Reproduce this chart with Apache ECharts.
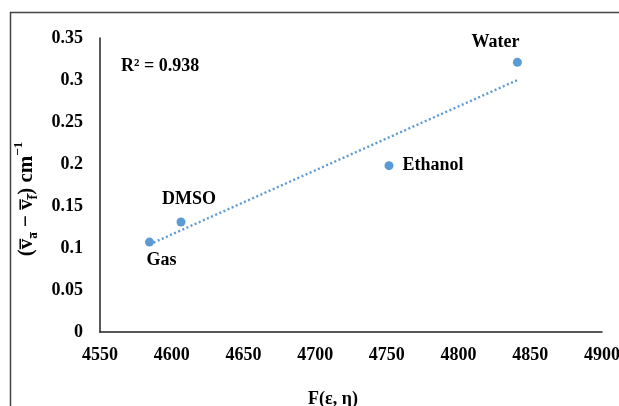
<!DOCTYPE html>
<html>
<head>
<meta charset="utf-8">
<script src="https://cdn.jsdelivr.net/npm/echarts@6/dist/echarts.min.js"></script>
<style>html,body{margin:0;padding:0;background:#fff}#c{width:619px;height:406px}</style>
</head>
<body>
<div id="c"></div>
<script>
const solvents = ['Gas', 'DMSO', 'Ethanol', 'Water'];
const fValues = [4584.5, 4606.5, 4751.5, 4841];
const shiftValues = [0.107, 0.131, 0.198, 0.321];
const xTicks = [4550, 4600, 4650, 4700, 4750, 4800, 4850, 4900];
const yTicks = [0, 0.05, 0.1, 0.15, 0.2, 0.25, 0.3, 0.35];
const r2Text = 'R² = 0.938';

// least squares trendline from the data
const n = fValues.length;
const mx = fValues.reduce((a, b) => a + b, 0) / n;
const my = shiftValues.reduce((a, b) => a + b, 0) / n;
let sxy = 0, sxx = 0;
for (let i = 0; i < n; i++) { sxy += (fValues[i] - mx) * (shiftValues[i] - my); sxx += (fValues[i] - mx) ** 2; }
const slope = sxy / sxx, icpt = my - slope * mx;
const xMin = Math.min(...fValues), xMax = Math.max(...fValues);
const trend = [[xMin, icpt + slope * xMin], [xMax, icpt + slope * xMax]];

const labelPos = {
  Gas: { position: 'bottom', offset: [12, 0] },
  DMSO: { position: 'top', offset: [8, -4] },
  Ethanol: { position: 'right', offset: [4, 0] },
  Water: { position: 'top', offset: [-22, -2] }
};
const FONT = '"Liberation Serif", "Times New Roman", serif';
const FS = 18;
const chart = echarts.init(document.getElementById('c'));
chart.setOption({
  animation: false,
  grid: { left: 100, right: 17, top: 38, bottom: 74, containLabel: false, outerBoundsMode: 'none' },
  xAxis: {
    type: 'value', min: xTicks[0], max: xTicks[xTicks.length - 1], interval: 50,
    splitLine: { show: false }, axisTick: { show: false },
    axisLine: { lineStyle: { color: '#222', width: 1.5 } },
    axisLabel: { color: '#000', fontFamily: FONT, fontWeight: 'bold', fontSize: FS, margin: 14,
      formatter: v => String(v) },
    name: 'F(ε, η)', nameLocation: 'middle', nameGap: 58,
    nameTextStyle: { color: '#000', fontFamily: FONT, fontWeight: 'bold', fontSize: FS, padding: [0, 36, 0, 0] }
  },
  yAxis: {
    type: 'value', min: 0, max: 0.35, interval: 0.05,
    splitLine: { show: false }, axisTick: { show: false },
    axisLine: { show: true, lineStyle: { color: '#222', width: 1.5 } },
    axisLabel: { color: '#000', fontFamily: FONT, fontWeight: 'bold', fontSize: FS, margin: 17,
      formatter: v => String(v) },
    name: '{t|(v̅}{s|a̅}{t| − v̅}{s|f̅}{t|) cm}{u|−1}', nameLocation: 'middle', nameGap: 57, nameRotate: 90,
    nameTextStyle: {
      color: '#000', fontFamily: FONT, fontWeight: 'bold', fontSize: 20, padding: [0, 28, 0, 0],
      rich: {
        t: { fontFamily: FONT, fontWeight: 'bold', fontSize: 21, color: '#000', lineHeight: 28 },
        s: { fontFamily: FONT, fontWeight: 'bold', fontSize: 13, color: '#000', lineHeight: 28, verticalAlign: 'bottom', padding: [8, 0, 0, 0] },
        u: { fontFamily: FONT, fontWeight: 'bold', fontSize: 13, color: '#000', lineHeight: 28, verticalAlign: 'top', padding: [0, 0, 10, 0] }
      }
    }
  },
  graphic: [
    { type: 'rect', silent: true, shape: { x: 10.5, y: 12.5, width: 700, height: 500 },
      style: { fill: 'none', stroke: '#444', lineWidth: 1.5 } },
    { type: 'text', left: 121, top: 57, style: { text: r2Text, fill: '#000', font: 'bold 18px ' + FONT } }
  ],
  series: [
    {
      type: 'line', data: trend, symbol: 'none', silent: true,
      lineStyle: { color: '#5B9BD5', width: 2.4, type: [2, 2.5] }
    },
    {
      type: 'scatter', symbolSize: 9,
      itemStyle: { color: '#5B9BD5', opacity: 1 },
      data: solvents.map((s, i) => ({
        value: [fValues[i], shiftValues[i]], name: s,
        label: { show: true, formatter: s, color: '#000', fontFamily: FONT, fontWeight: 'bold', fontSize: FS, ...labelPos[s] }
      }))
    }
  ]
});
</script>
</body>
</html>
